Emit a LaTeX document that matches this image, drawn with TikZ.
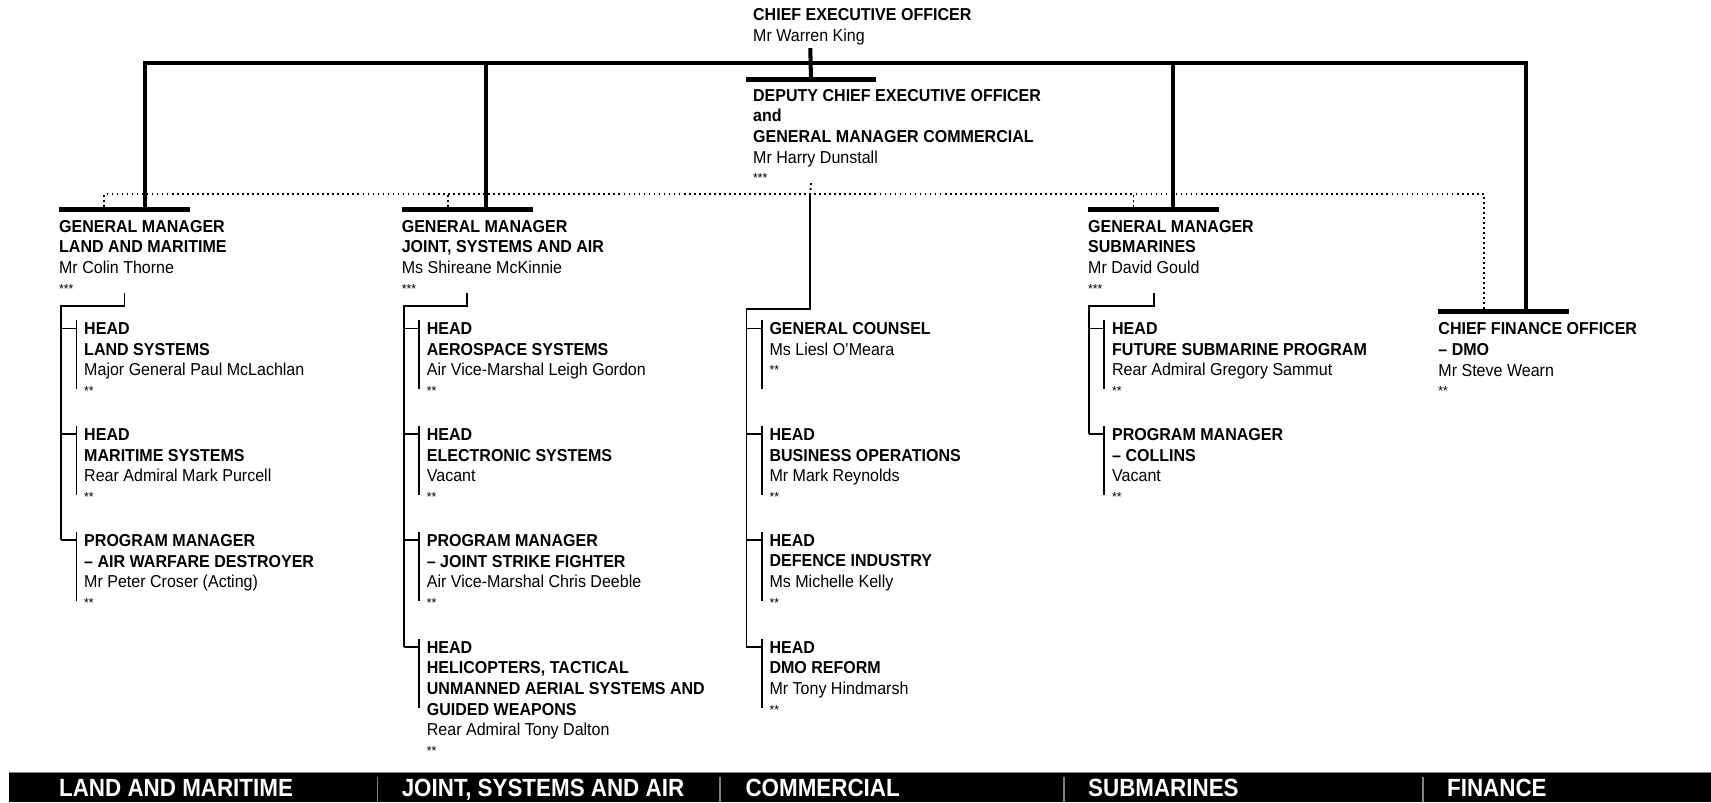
\documentclass[tikz,border=0pt]{standalone}
\usepackage{fontspec}
\setmainfont{Liberation Sans}[FakeStretch=0.93]
\newfontfamily\bandfont{Liberation Sans}[FakeStretch=0.9]
\usetikzlibrary{positioning}
\tikzstyle{trunk} = [line width=3.7pt]
\tikzstyle{branch} = [line width=1.6pt]
\tikzstyle{dot} = [line width=1.7pt, dash pattern=on 1.6pt off 3pt]
\tikzstyle{bar} = [fill=black, inner sep=0pt, minimum width=120pt, minimum height=4.6pt]
\tikzstyle{post} = [inner sep=0pt, anchor=north west, align=left, font=\fontsize{15.8}{19}\selectfont]
\tikzstyle{band} = [inner sep=0pt, anchor=base west, text=white, font=\bandfont\bfseries\fontsize{22.8}{24}\selectfont]
\newcommand{\hd}[1]{\textbf{#1}\\}
\newcommand{\rank}[1]{\\[-1pt]{\fontsize{12}{12}\selectfont #1}}
\newcommand{\stem}[1]{%
  \draw[branch] ([xshift=-7pt,yshift=2pt]#1.north west) -- ++(0,63);
  \draw[branch] ([xshift=-21pt,yshift=-5.6pt]#1.north west) -- ++(14,0);}

\begin{document}
\begin{tikzpicture}[x=1pt, y=-1pt]
\useasboundingbox (0,0) rectangle (1568,735);

% top
\node (ceo) [post] at (690,7.4) {\hd{CHIEF EXECUTIVE OFFICER}Mr Warren King};
\node (dep) [post] at (690,81.4) {\hd{DEPUTY CHIEF EXECUTIVE OFFICER}\hd{and}\hd{GENERAL MANAGER COMMERCIAL}Mr Harry Dunstall\rank{***}};
\node (depbar) [bar, above=6pt of dep.north west, anchor=south west, xshift=-7pt] {};
\coordinate (hub) at (742.5,58);
\coordinate (dotrow) at (742.5,178);

% general managers
\node (gml) [post] at (54,201.4) {\hd{GENERAL MANAGER}\hd{LAND AND MARITIME}Mr Colin Thorne\rank{***}};
\node (gmj) [post] at (368,201.4) {\hd{GENERAL MANAGER}\hd{JOINT, SYSTEMS AND AIR}Ms Shireane McKinnie\rank{***}};
\node (gms) [post] at (997,201.4) {\hd{GENERAL MANAGER}\hd{SUBMARINES}Mr David Gould\rank{***}};
\node (cfo) [post] at (1318,295.4) {\hd{CHIEF FINANCE OFFICER}\hd{– DMO}Mr Steve Wearn\rank{**}};
\node (gmlbar) [bar, above=7pt of gml.north west, anchor=south west] {};
\node (gmjbar) [bar, above=7pt of gmj.north west, anchor=south west] {};
\node (gmsbar) [bar, above=7pt of gms.north west, anchor=south west] {};
\node (cfobar) [bar, above=7pt of cfo.north west, anchor=south west] {};

% land and maritime
\node (l1) [post] at (77,295.4) {\hd{HEAD}\hd{LAND SYSTEMS}Major General Paul McLachlan\rank{**}};
\node (l2) [post] at ([yshift=-97pt]l1.north west) {\hd{HEAD}\hd{MARITIME SYSTEMS}Rear Admiral Mark Purcell\rank{**}};
\node (l3) [post] at ([yshift=-97pt]l2.north west) {\hd{PROGRAM MANAGER}\hd{– AIR WARFARE DESTROYER}Mr Peter Croser (Acting)\rank{**}};

% joint, systems and air
\node (j1) [post] at (391,295.4) {\hd{HEAD}\hd{AEROSPACE SYSTEMS}Air Vice-Marshal Leigh Gordon\rank{**}};
\node (j2) [post] at ([yshift=-97pt]j1.north west) {\hd{HEAD}\hd{ELECTRONIC SYSTEMS}Vacant\rank{**}};
\node (j3) [post] at ([yshift=-97pt]j2.north west) {\hd{PROGRAM MANAGER}\hd{– JOINT STRIKE FIGHTER}Air Vice-Marshal Chris Deeble\rank{**}};
\node (j4) [post] at ([yshift=-98pt]j3.north west) {\hd{HEAD}\hd{HELICOPTERS, TACTICAL}\hd{UNMANNED AERIAL SYSTEMS AND}\hd{GUIDED WEAPONS}Rear Admiral Tony Dalton\rank{**}};

% commercial
\node (c1) [post] at (705,295.4) {\hd{GENERAL COUNSEL}Ms Liesl O’Meara\rank{**}};
\node (c2) [post] at ([yshift=-97pt]c1.north west) {\hd{HEAD}\hd{BUSINESS OPERATIONS}Mr Mark Reynolds\rank{**}};
\node (c3) [post] at ([yshift=-97pt]c2.north west) {\hd{HEAD}\hd{DEFENCE INDUSTRY}Ms Michelle Kelly\rank{**}};
\node (c4) [post] at ([yshift=-98pt]c3.north west) {\hd{HEAD}\hd{DMO REFORM}Mr Tony Hindmarsh\rank{**}};

% submarines
\node (s1) [post] at (1019,295.4) {\hd{HEAD}\hd{FUTURE SUBMARINE PROGRAM}Rear Admiral Gregory Sammut\rank{**}};
\node (s2) [post] at ([yshift=-97pt]s1.north west) {\hd{PROGRAM MANAGER}\hd{– COLLINS}Vacant\rank{**}};

% solid reporting lines
\draw[trunk] ([xshift=19pt]gmlbar.north) |- (hub) -| ([xshift=20pt]cfobar.north);
\draw[trunk] ([xshift=17pt]gmjbar.north) -- ++(0,-132);
\draw[trunk] ([xshift=17.5pt]gmsbar.north) -- ++(0,-132);
\draw[trunk, shorten <=3pt] (ceo.south -| hub) -- (depbar.center);

% dotted lines to the deputy
\draw[dot] ([xshift=-19pt]gmlbar.north) |- (dotrow) -| ([xshift=-18pt]cfobar.north);
\draw[dot] ([xshift=-18pt]gmjbar.north) -- ++(0,-12);
\draw[dot] ([xshift=-18.5pt]gmsbar.north) -- ++(0,-12);
\draw[dot] (dep.south -| depbar.center) -- (dotrow);

% branches to the heads
\draw[branch] (gml.south -| gmlbar.center) |- ([xshift=-21pt,yshift=15pt]l1.north west) -- ([xshift=-21pt,yshift=-5.6pt]l3.north west);
\draw[branch] (gmj.south -| gmjbar.center) |- ([xshift=-21pt,yshift=15pt]j1.north west) -- ([xshift=-21pt,yshift=-5.6pt]j4.north west);
\draw[branch] (dotrow) |- ([xshift=-21pt,yshift=12pt]c1.north west) -- ([xshift=-21pt,yshift=-5.6pt]c4.north west);
\draw[branch] (gms.south -| gmsbar.center) |- ([xshift=-21pt,yshift=15pt]s1.north west) -- ([xshift=-21pt,yshift=-5.6pt]s2.north west);
\stem{l1} \stem{l2} \stem{l3}
\stem{j1} \stem{j2} \stem{j3} \stem{j4}
\stem{c1} \stem{c2} \stem{c3} \stem{c4}
\stem{s1} \stem{s2}

% division band
\fill (8,708) rectangle (1568,735);
\draw[gray, line width=0.8pt] (8,708) -- (1568,708);
\foreach \x in {346,660,975,1304}
  \draw[gray, line width=1.5pt] (\x,712) -- (\x,735);
\node (bandl) [band] at (54,730) {LAND AND MARITIME};
\node (bandj) [band] at (368,730) {JOINT, SYSTEMS AND AIR};
\node (bandc) [band] at (683,730) {COMMERCIAL};
\node (bands) [band] at (997,730) {SUBMARINES};
\node (bandf) [band] at (1326,730) {FINANCE};
\end{tikzpicture}
\end{document}
